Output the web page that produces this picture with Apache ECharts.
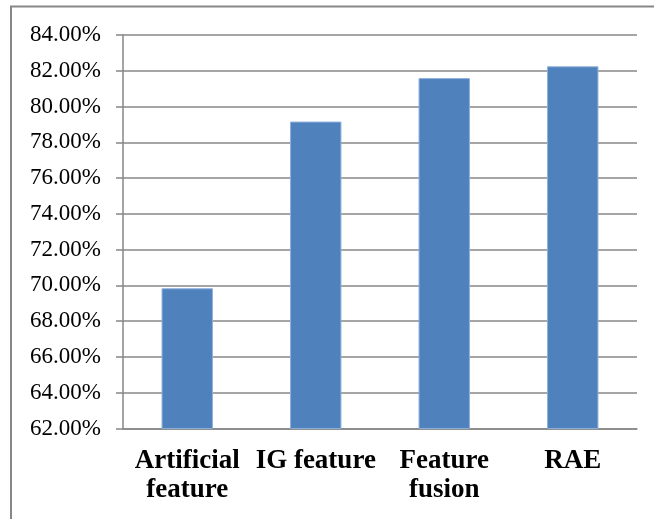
<!DOCTYPE html>
<html>
<head>
<meta charset="utf-8">
<script src="https://cdn.jsdelivr.net/npm/echarts@6/dist/echarts.min.js"></script>
<style>
  html, body { margin: 0; padding: 0; background: #fff; }
  #chart { width: 654px; height: 519px; }
</style>
</head>
<body>
<div id="chart"></div>
<script>
// Accuracy (%) by feature type
const categories = ['Artificial feature', 'IG feature', 'Feature fusion', 'RAE'];
const tickLabels = ['Artificial\nfeature', 'IG feature', 'Feature\nfusion', 'RAE'];
const accuracy = [69.84, 79.16, 81.59, 82.25];
const yMin = 62, yMax = 84, yStep = 2;

const chart = echarts.init(document.getElementById('chart'), null, { renderer: 'canvas' });
const grey = '#878787';

chart.setOption({
  animation: false,
  backgroundColor: '#ffffff',
  graphic: [{
    type: 'rect',
    shape: { x: 11, y: 6.5, width: 700, height: 600 },
    style: { fill: 'none', stroke: grey, lineWidth: 2 },
    silent: true
  }],
  grid: { left: 123, right: 17, top: 35, bottom: 90.5 },
  xAxis: {
    type: 'category',
    data: categories,
    axisLine: { lineStyle: { color: grey, width: 1.5 } },
    axisTick: { alignWithLabel: false, length: 7, lineStyle: { color: grey, width: 1.5 } },
    axisLabel: {
      interval: 0,
      hideOverlap: false,
      margin: 18,
      color: '#000',
      fontFamily: '"Liberation Serif", "Times New Roman", serif',
      fontWeight: 'bold',
      fontSize: 27,
      lineHeight: 29,
      formatter: (v, i) => tickLabels[i]
    }
  },
  yAxis: {
    type: 'value',
    min: yMin, max: yMax, interval: yStep,
    axisLine: { show: true, lineStyle: { color: grey, width: 1.5 } },
    axisTick: { show: true, length: 7, lineStyle: { color: grey, width: 1.5 } },
    splitLine: { lineStyle: { color: grey, width: 1.5 } },
    axisLabel: {
      margin: 22,
      color: '#000',
      fontFamily: '"Liberation Serif", "Times New Roman", serif',
      fontSize: 23,
      formatter: v => v.toFixed(2) + '%'
    }
  },
  series: [{
    type: 'bar',
    data: accuracy,
    barCategoryGap: '60%',
    itemStyle: { color: '#4F81BD', borderColor: '#8DB0DB', borderWidth: 1 },
    z: 3
  }]
});
</script>
</body>
</html>
